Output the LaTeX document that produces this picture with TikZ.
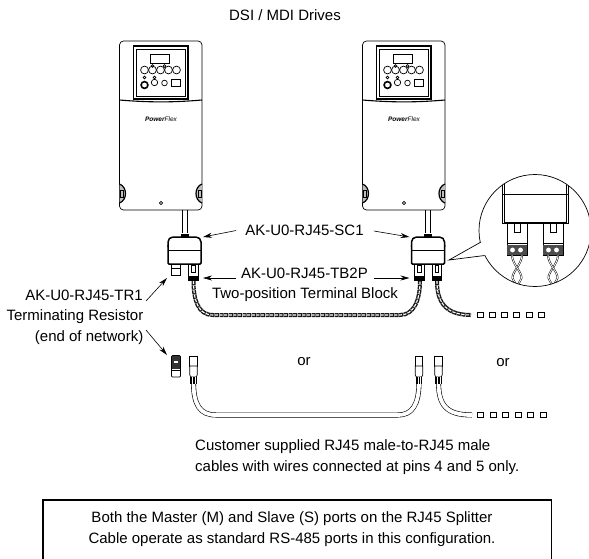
\documentclass[tikz,border=0pt]{standalone}
\usepackage{fontspec}
\setmainfont{Liberation Sans}
\usetikzlibrary{arrows.meta, positioning, calc}

\tikzset{
	lbl/.style={font=\fontsize{15}{21}\selectfont, inner sep=0pt},
	pointer/.style={-{Stealth[length=9pt,width=5pt]}, line width=0.6pt},
	outline/.style={line width=0.7pt},
	heavy/.style={line width=1.5pt},
	endmark/.style={draw, line width=0.6pt, minimum width=6pt, minimum height=5pt, inner sep=0pt, fill=white},
	tube/.style={draw=black, line width=5pt},
	tubefill/.style={draw=white, line width=3.8pt}
}

% one drive with its panel, drawn from its top left corner
\newcommand{\driveunit}[2]{
	\begin{scope}[shift={(#1,#2)}]
		% Housing
		\draw[outline, rounded corners=4pt] (0,0) rectangle (82.5,169);
		\draw[line width=1.1pt] (0,59) .. controls (30,61.5) and (53,61.5) .. (82.5,59);
		% Side grips
		\draw[line width=1.2pt, fill=black!25] (0,143) .. controls (8,146) and (8,159) .. (0,162);
		\draw[line width=1.2pt, fill=black!25] (82.5,143) .. controls (74.5,146) and (74.5,159) .. (82.5,162);
		\draw[outline] (1,149) rectangle (4,156);
		\draw[outline] (78.5,149) rectangle (81.5,156);
		\draw[outline] (41.5,162) circle (1.7);
		% Panel
		\draw[line width=1.1pt] (14,5) rectangle (68.5,58);
		\draw[outline] (17,8) rectangle (65.5,55);
		\draw[outline] (31,13) rectangle (50,22);
		\foreach \bx in {25,33,41,49,57} \draw[outline] (\bx,29) circle (3.9);
		\foreach \bx in {33,45} \draw[outline] (\bx,25) circle (1.4);
		\draw[line width=1.6pt] (25,44) circle (3.4);
		\draw[outline] (25,36.5) circle (1.4);
		\draw[outline] (35,36.5) circle (1.4);
		\draw[outline] (35,41.5) circle (3.2);
		\draw[outline] (45,42) circle (2.8);
		\draw[outline] (51.5,38) rectangle (60.5,45.5);
		\node[font=\fontsize{6.5}{7}\selectfont\itshape, inner sep=0pt] at (41.5,78) {\textbf{Power}Flex};
		% Stem
		\draw[outline] (62.5,169) -- (62.5,192);
		\draw[outline] (67.5,169) -- (67.5,192);
	\end{scope}
}

% splitter body with its two sockets, x = centre of the body
\newcommand{\splitterunit}[2]{
	\begin{scope}[shift={(#1,237)}]
		\fill (-4,1) rectangle (4,-3);
		\draw[heavy, fill=white, rounded corners=5pt] (-16.5,10) -- (-16.5,0) -- (16.5,0) -- (16.5,10);
		\draw[heavy, fill=white, rounded corners=1pt] (-16.5,8) -- (-16.5,27) -- (16.5,27) -- (16.5,8);
		\draw[outline] (-16.5,13) -- (16.5,13);
		% right socket
		\draw[outline] (4,27) rectangle (13.5,43);
		\draw[outline] (7,28) rectangle (10.5,35);
		\fill (4,39) rectangle (13.5,43);
		% #2=1 gives a small plug on the left, otherwise a full socket
		\ifnum#2=1
			\draw[outline] (-13.5,27) rectangle (-4,38);
			\draw[outline] (-13.5,31) -- (-4,31);
		\else
			\draw[outline] (-13.5,27) rectangle (-4,43);
			\draw[outline] (-10.5,28) rectangle (-7,35);
			\fill (-13.5,39) rectangle (-4,43);
		\fi
	\end{scope}
}

% cable plug, (x,y) = top centre
\newcommand{\plugunit}[2]{
	\begin{scope}[shift={(#1,#2)}]
		\draw[outline, fill=white] (-3.7,0) rectangle (3.7,10);
		\draw[outline, fill=white] (-3.7,10) -- (3.7,10) -- (3.7,19) -- (2.6,21) -- (-2.6,21) -- (-3.7,19) -- cycle;
		\fill (-3.2,21) rectangle (3.2,28);
		\foreach \gx in {-1.2,1.2} \draw[white, line width=0.4pt] (\gx,21) -- (\gx,28);
	\end{scope}
}

% twisted pair drawn along a path
\newcommand{\twistpath}[1]{
	\draw[line width=4pt, black!90, dash pattern=on 4pt off 0.6pt] #1;
	\draw[line width=1.1pt, white, dash pattern=on 3pt off 1.6pt] #1;
}

\begin{document}
\begin{tikzpicture}[x=1pt, y=-1pt]
	\useasboundingbox (0,0) rectangle (589,558);

	% Drives
	\driveunit{119.5}{41}
	\driveunit{362.5}{41}

	% Twisted cables
	\twistpath{(193.5,281) .. controls (193.5,300) and (198,315) .. (213,315) -- (400,315) .. controls (414,315) and (420,300) .. (420,281)}
	\twistpath{(437,281) .. controls (437,298) and (442,315) .. (471,315)}

	% Splitters
	\splitterunit{184.5}{1}
	\splitterunit{428}{2}

	% Loose wire ends
	\foreach \ex/\en in {480/a,492.2/b,504.4/c,516.6/d,528.8/e,541/f}
		\node[endmark] (top\en) at (\ex,315) {};
	\foreach \ex/\en in {480.5/a,493/b,505.5/c,518/d,530.5/e,543/f}
		\node[endmark] (low\en) at (\ex,415) {};

	% Patch cables
	\draw[tube] (193.5,382) .. controls (193.5,405) and (200,415) .. (216,415) -- (398,415) .. controls (412,415) and (419,405) .. (419,382);
	\draw[tubefill] (193.5,382) .. controls (193.5,405) and (200,415) .. (216,415) -- (398,415) .. controls (412,415) and (419,405) .. (419,382);
	\draw[tube] (438.5,382) .. controls (438.5,405) and (446,415) .. (472,415);
	\draw[tubefill] (438.5,382) .. controls (438.5,405) and (446,415) .. (472,415);
	\plugunit{193.5}{356}
	\plugunit{419}{356}
	\plugunit{438.5}{356}

	% Terminating resistor
	\draw[outline, fill=white, rounded corners=1pt] (171.5,355.5) rectangle (180.5,377);
	\fill[black!80] (172,356) rectangle (180,369);
	\fill[white] (174,361) rectangle (178,363);
	\draw[outline] (171.5,370) -- (180.5,370);

	% Zoom circle
	\fill[white] (535,230.5) circle (56);
	\begin{scope}
		\clip (535,230.5) circle (56);
		\draw[outline] (502,170) -- (502,223.5) -- (568,223.5) -- (568,170);
		\draw[outline] (504,170) -- (504,222) -- (566,222) -- (566,170);
		\draw[outline] (502,194) -- (568,194);
		\foreach \cx in {517,553} {
			\draw[outline] (\cx-10,223) -- (\cx-10,255) -- (\cx+10,255) -- (\cx+10,223);
			\draw[outline] (\cx-3,224) -- (\cx-3,232.5) -- (\cx+3,232.5) -- (\cx+3,224);
			\draw[outline] (\cx-10,243) -- (\cx+10,243);
			\fill[black!70] (\cx-10,245) rectangle (\cx+10,255);
			\fill[white] (\cx-4.5,250) circle (2.4) (\cx+3.5,250) circle (2.4);
			\foreach \wo in {-1,1} {
				\draw[line width=1.8pt] (\cx-5*\wo,255) .. controls (\cx-5*\wo,264) and (\cx+5*\wo,272) .. (\cx+4.5*\wo,278) .. controls (\cx+3*\wo,282) and (\cx,285) .. (\cx-1*\wo,289);
				\draw[white, line width=0.8pt] (\cx-5*\wo,255) .. controls (\cx-5*\wo,264) and (\cx+5*\wo,272) .. (\cx+4.5*\wo,278) .. controls (\cx+3*\wo,282) and (\cx,285) .. (\cx-1*\wo,289);
			}
		}
	\end{scope}
	\draw[outline] (535,230.5) circle (56);
	% Callout tail over the circle edge
	\fill[white] (481,242) -- (449,260) -- (484.6,255.5) -- (490,240) -- cycle;
	\draw[outline] (481,242) -- (449,260) -- (484.6,255.5);

	% Labels
	\node[lbl] (title) at (285,15) {DSI / MDI Drives};
	\node[lbl] (scnote) at (304.5,230.5) {AK-U0-RJ45-SC1};
	\node[lbl] (tbnote) at (304.5,273) {AK-U0-RJ45-TB2P};
	\node[lbl] (tbtext) at (305,295) {Two-position Terminal Block};
	\node[lbl, anchor=east] (trnote) at (143,295) {AK-U0-RJ45-TR1};
	\node[lbl, anchor=east] (trtext) at (143.5,317) {Terminating Resistor};
	\node[lbl, anchor=east] (trend) at (143.5,338) {(end of network)};
	\node[lbl] (orleft) at (304,362) {or};
	\node[lbl] (orright) at (503,363) {or};
	\node[lbl, anchor=west, align=left] (custtext) at (195,457.5) {Customer supplied RJ45 male-to-RJ45 male\\cables with wires connected at pins 4 and 5 only.};
	\node[lbl, align=center] (boxtext) at (292,529) {Both the Master (M) and Slave (S) ports on the RJ45 Splitter\\Cable operate as standard RS-485 ports in this configuration.};
	\draw[line width=1.4pt] (43,558.6) -- (43,500) -- (551.5,500) -- (551.5,558.6);

	% Pointers
	\coordinate (sctipa) at (203,237);
	\coordinate (sctipb) at (409.5,237);
	\coordinate (tbtipa) at (203,278);
	\coordinate (tbtipb) at (409.5,278);
	\coordinate (trtipa) at (167,278);
	\coordinate (trtipb) at (167,355);
	\draw[pointer] (scnote.west) ++(-9,0) -- (sctipa);
	\draw[pointer] (scnote.east) ++(10,0.5) -- (sctipb);
	\draw[pointer] (tbnote.west) ++(-5,5) -- (tbtipa);
	\draw[pointer] (tbnote.east) ++(6,5) -- (tbtipb);
	\draw[pointer] (trnote.east) ++(3,6) -- (trtipa);
	\draw[pointer] (trend.east) ++(2.5,-8) -- (trtipb);
\end{tikzpicture}
\end{document}
